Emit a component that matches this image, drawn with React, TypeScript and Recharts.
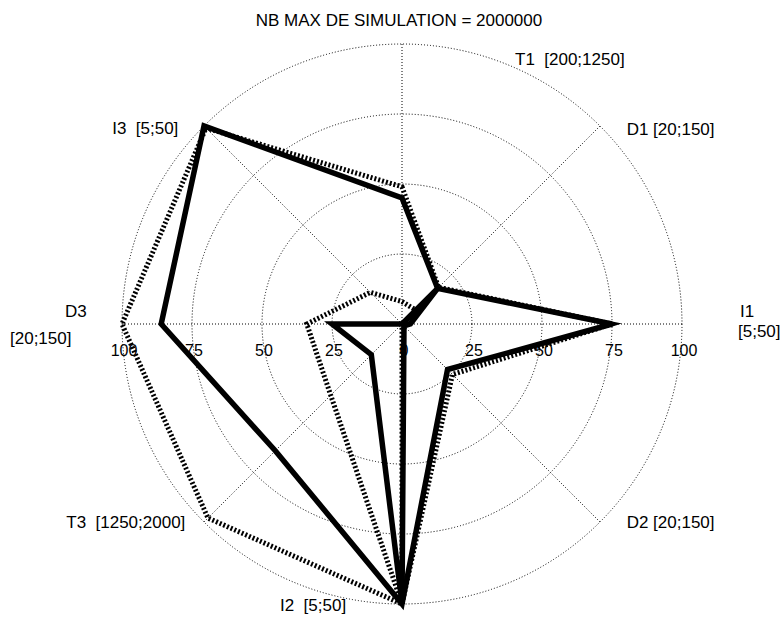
import React from "react";
import {
  PolarAngleAxis,
  PolarGrid,
  PolarRadiusAxis,
  Radar,
  RadarChart,
} from "recharts";

const axisIds = ["T1", "D1", "I1", "D2", "I2", "T3", "D3", "I3"];
const axisRanges = [
  "[200;1250]",
  "[20;150]",
  "[5;50]",
  "[20;150]",
  "[5;50]",
  "[1250;2000]",
  "[20;150]",
  "[5;50]",
];

// two runs, each drawn as an outer and an inner polygon
const solidOuter = [45, 18, 75, 23, 100, 64, 86, 100];
const solidInner = [0, 18, 3, 1, 100, 15.5, 25, 0];
const dottedOuter = [49, 18.5, 75, 25.5, 100, 98, 100, 99];
const dottedInner = [8, 7, 0.5, 0, 100, 36, 34, 16];

const radiusTicks = [0, 25, 50, 75, 100];

const chartTitle = "NB MAX DE SIMULATION = 2000000";

const FONT = "'Liberation Sans', Arial, Helvetica, sans-serif";
const CX = 402;
const CY = 324;
const R = 280;

const data = axisIds.map((id, i) => ({
  axis: id,
  solidOuter: solidOuter[i],
  solidInner: solidInner[i],
  dottedOuter: dottedOuter[i],
  dottedInner: dottedInner[i],
}));

// where each axis label sits, relative to the end of its spoke
type LabelLine = { text: (id: string, range: string) => string; dx: number; dy: number; anchor: "start" | "end" };
const labelLayout: Record<string, LabelLine[]> = {
  T1: [{ text: (id, r) => `${id}  ${r}`, dx: 113, dy: 29, anchor: "start" }],
  D1: [{ text: (id, r) => `${id} ${r}`, dx: 21, dy: 15, anchor: "start" }],
  I1: [
    { text: (id) => id, dx: 50, dy: -7, anchor: "start" },
    { text: (_, r) => r, dx: 48, dy: 13, anchor: "start" },
  ],
  D2: [{ text: (id, r) => `${id} ${r}`, dx: 21, dy: 0, anchor: "start" }],
  I2: [{ text: (id, r) => `${id}  ${r}`, dx: -122, dy: -1, anchor: "start" }],
  T3: [{ text: (id, r) => `${id}  ${r}`, dx: -13, dy: 0, anchor: "end" }],
  D3: [
    { text: (id) => id, dx: -49, dy: -7, anchor: "start" },
    { text: (_, r) => r, dx: -104, dy: 20, anchor: "start" },
  ],
  I3: [{ text: (id, r) => `${id}  ${r}`, dx: -20, dy: 14, anchor: "end" }],
};

function AngleTick(props: any) {
  const { x, y, payload } = props;
  const id = payload.value as string;
  const range = axisRanges[axisIds.indexOf(id)];
  const lines = labelLayout[id] || [];
  return (
    <g>
      {lines.map((l, i) => (
        <text
          key={i}
          x={x + l.dx}
          y={y + l.dy}
          textAnchor={l.anchor}
          fontSize={17}
          fontFamily={FONT}
          fill="#000"
          style={{ whiteSpace: "pre" }}
        >
          {l.text(id, range)}
        </text>
      ))}
    </g>
  );
}

function RadiusTick(props: any) {
  const { x, y, payload } = props;
  const label = String(payload.value);
  const common = {
    fontSize: 16,
    fontFamily: FONT,
    fill: "#000",
    textAnchor: "middle" as const,
  };
  return (
    <g>
      <text x={x + 2} y={y + 32} {...common}>
        {label}
      </text>
      {payload.value !== 0 && (
        <text x={2 * CX - x + 2} y={y + 32} {...common}>
          {label}
        </text>
      )}
    </g>
  );
}

export default function App() {
  return (
    <div style={{ position: "absolute", left: 0, top: 0, width: 784, height: 618, background: "#fff" }}>
      <div
        style={{
          position: "absolute",
          left: 0,
          top: 12,
          width: 798,
          textAlign: "center",
          fontFamily: FONT,
          fontSize: 17,
          lineHeight: "17px",
          color: "#000",
        }}
      >
        {chartTitle}
      </div>
      <RadarChart
        width={784}
        height={618}
        data={data}
        cx={CX}
        cy={CY}
        outerRadius={R}
        margin={{ top: 0, right: 0, bottom: 0, left: 0 }}
      >
        <PolarGrid gridType="circle" stroke="#000" strokeDasharray="1 2" strokeWidth={1} />
        <PolarAngleAxis dataKey="axis" tick={AngleTick} tickLine={false} axisLine={false} />
        <PolarRadiusAxis
          angle={0}
          domain={[0, 100]}
          ticks={radiusTicks}
          tickCount={5}
          axisLine={false}
          tickLine={false}
          tick={RadiusTick}
        />
        <Radar
          dataKey="dottedOuter"
          stroke="#000"
          strokeWidth={5}
          strokeDasharray="2 2"
          fill="none"
          fillOpacity={0}
          isAnimationActive={false}
        />
        <Radar
          dataKey="dottedInner"
          stroke="#000"
          strokeWidth={5}
          strokeDasharray="2 2"
          fill="none"
          fillOpacity={0}
          isAnimationActive={false}
        />
        <Radar
          dataKey="solidOuter"
          stroke="#000"
          strokeWidth={5.5}
          fill="none"
          fillOpacity={0}
          isAnimationActive={false}
        />
        <Radar
          dataKey="solidInner"
          stroke="#000"
          strokeWidth={5.5}
          fill="none"
          fillOpacity={0}
          isAnimationActive={false}
        />
      </RadarChart>
    </div>
  );
}
